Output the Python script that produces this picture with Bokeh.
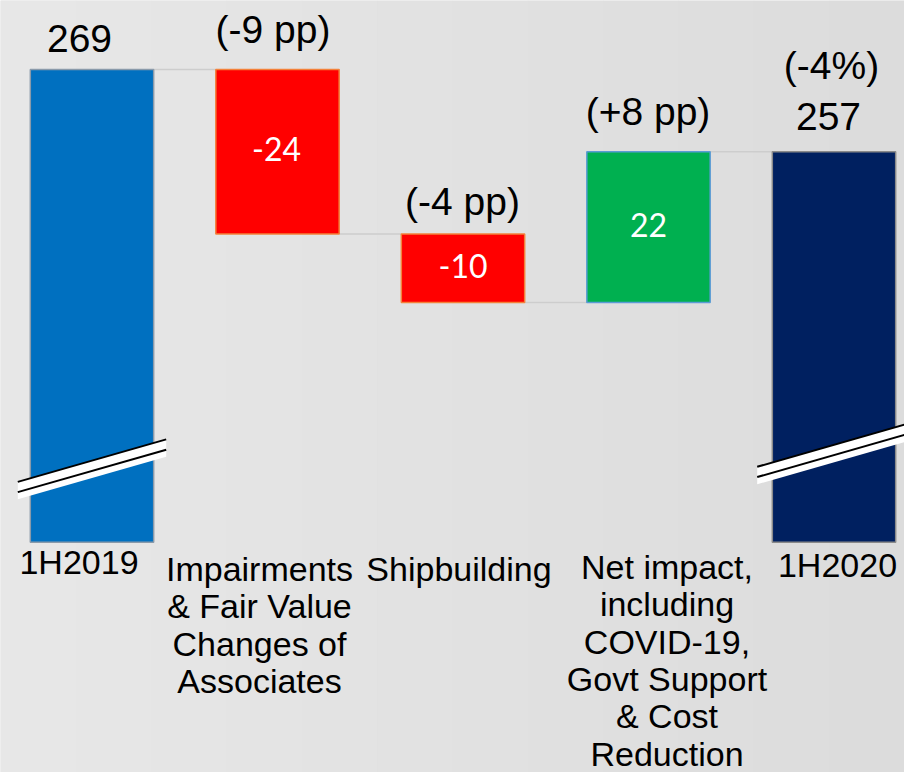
from bokeh.plotting import figure
from bokeh.models import Range1d, ColumnDataSource
from bokeh.core.properties import value
from bokeh.embed import file_html
from bokeh.resources import INLINE

# ---------------- data ----------------
categories = [
    "1H2019",
    "Impairments\n& Fair Value\nChanges of\nAssociates",
    "Shipbuilding",
    "Net impact,\nincluding\nCOVID-19,\nGovt Support\n& Cost\nReduction",
    "1H2020",
]
start_value = 269
deltas = [-24, -10, 22]
end_value = 257
pp_labels = ["(-9 pp)", "(-4 pp)", "(+8 pp)"]
total_change_label = "(-4%)"
axis_break_base = 200  # truncated (broken) axis base

# ---------------- style / layout ----------------
W, H = 904, 772
K = 6.85          # px per value unit
S = 185.5         # px per category step
X0 = -91.5 / S
X1 = X0 + W / S
Y1 = 269 + 69 / K
Y0 = Y1 - H / K
BAR_W = 0.665
FONT = "Liberation Sans"
total_colors = ["#0070C0", "#002060"]
up_color, down_color = "#00B050", "#FF0000"


def dy(px):
    return px / K


def dx(px):
    return px / S


p = figure(width=W, height=H, x_range=Range1d(X0, X1), y_range=Range1d(Y0, Y1),
           output_backend="svg", toolbar_location=None, min_border=0)
p.background_fill_color = "#e2e2e2"
p.border_fill_color = "#e2e2e2"
p.outline_line_color = None
p.xaxis.visible = False
p.yaxis.visible = False
p.grid.visible = False

# slide background: soft left-to-right shading
bg = ["#e7e7e7", "#e6e6e6", "#e5e5e5", "#e4e4e4", "#e3e3e3", "#e2e2e2",
      "#e1e1e1", "#e0e0e0", "#dfdfdf", "#dedede", "#dddddd", "#dcdcdc"]
step = (X1 - X0) / len(bg)
p.quad(left=[X0 + i * step for i in range(len(bg))],
       right=[X0 + (i + 1) * step + 0.002 for i in range(len(bg))],
       bottom=Y0, top=Y1, fill_color=bg, line_color=None)

# ---------------- waterfall geometry ----------------
xs = list(range(len(categories)))
tops, bottoms, colors, outlines = [], [], [], []
tops.append(start_value); bottoms.append(axis_break_base)
colors.append(total_colors[0]); outlines.append("#8a9aaa")
level = start_value
levels = [level]
for d in deltas:
    new = level + d
    tops.append(max(level, new)); bottoms.append(min(level, new))
    colors.append(up_color if d > 0 else down_color)
    outlines.append("#5B9BD5" if d > 0 else "#F4813A")
    level = new
    levels.append(level)
tops.append(end_value); bottoms.append(axis_break_base)
colors.append(total_colors[1]); outlines.append("#8a8a8a")

# connectors
for i in range(len(xs) - 1):
    p.line([xs[i] + BAR_W / 2, xs[i + 1] - BAR_W / 2], [levels[i], levels[i]],
           line_color="#cdcdcd", line_width=1.5)

src = ColumnDataSource(dict(x=xs, top=tops, bottom=bottoms, color=colors, outline=outlines))
p.vbar(x="x", top="top", bottom="bottom", width=BAR_W, fill_color="color",
       line_color="outline", line_width=1.5, source=src)

# axis-break marks on the two total bars
for xi, c in [(xs[0], axis_break_base + 11.9), (xs[-1] - 0.014, axis_break_base + 14.1)]:
    half, rise = 0.4, 3.1
    lx, rx = xi - half, xi + half
    p.patch([lx, rx, rx, lx], [c - rise, c + rise, c + rise - 2.55, c - rise - 2.55],
            fill_color="white", line_color=None)
    p.line([lx, rx], [c - rise, c + rise], line_color="black", line_width=2)
    p.line([lx, rx], [c - rise - 1.5, c + rise - 1.5], line_color="black", line_width=2)

# ---------------- labels ----------------
UP_VAL, UP_IN, UP_CAT = 14.5, 14.5, 13.5   # renderer baseline correction, px

top_txt = [str(start_value)] + pp_labels + [str(end_value), total_change_label]
top_x = [xs[0] - dx(12.5), xs[1] - dx(4.5), xs[2] - dx(0.5), xs[3] - dx(0.5),
         xs[4] - dx(5.5), xs[4] - dx(2.5)]
top_off = [17, 25.5, 18, 25.5, 20.5, 72]
top_base = [tops[0], tops[1], tops[2], tops[3], tops[4], tops[4]]
top_y = [b + dy(o + UP_VAL) for b, o in zip(top_base, top_off)]
p.text(x=top_x, y=top_y, text=top_txt, text_font=value(FONT), text_font_size="39px",
       text_align="center", text_baseline="alphabetic", text_color="black")

in_x = [xs[1] - dx(1), xs[2], xs[3]]
in_y = [(tops[i] + bottoms[i]) / 2 - dy(12 - UP_IN) for i in (1, 2, 3)]
in_txt = [str(d) for d in deltas]
p.text(x=in_x, y=in_y, text=in_txt, text_font=value("Lato"), text_font_size="32px",
       text_align="center", text_baseline="alphabetic", text_color="white")

# category labels (one glyph row per line)
cat_dx = [-13, -18, -4, 18.5, 3.5]
cat_base_px = [575, 582, 582, 580, 578]  # first-line baseline, page px
line_h = 37.3
lx_, ly_, lt_ = [], [], []
for i, cat in enumerate(categories):
    for j, line in enumerate(cat.split("\n")):
        lx_.append(xs[i] + dx(cat_dx[i]))
        ly_.append(Y1 - (cat_base_px[i] - UP_CAT + j * line_h) / K)
        lt_.append(line)
p.text(x=lx_, y=ly_, text=lt_, text_font=value(FONT), text_font_size="34px",
       text_align="center", text_baseline="alphabetic", text_color="black")

open("out.html", "w").write(file_html(p, INLINE))
